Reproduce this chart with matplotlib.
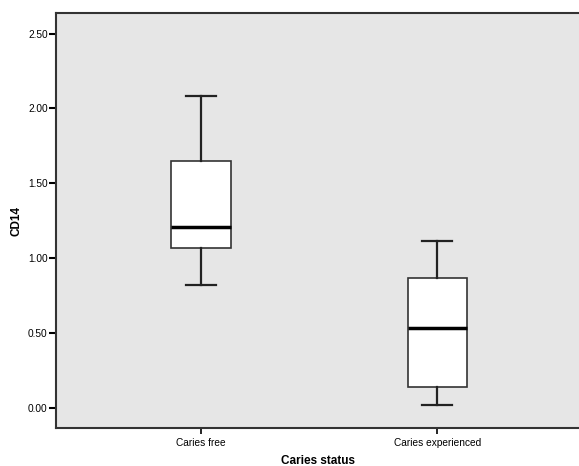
import matplotlib
matplotlib.use('Agg')
import matplotlib.pyplot as plt

plt.rcParams['font.family'] = ['Liberation Sans', 'DejaVu Sans']

groups = ['Caries free', 'Caries experienced']
whisker_low = [0.82, 0.018]
q1 = [1.069, 0.138]
median = [1.209, 0.535]
q3 = [1.651, 0.865]
whisker_high = [2.082, 1.113]
yticks = [0.0, 0.5, 1.0, 1.5, 2.0, 2.5]

stats = []
for i, g in enumerate(groups):
    stats.append({'label': g, 'whislo': whisker_low[i], 'q1': q1[i], 'med': median[i],
                  'q3': q3[i], 'whishi': whisker_high[i], 'fliers': []})

fig = plt.figure(figsize=(5.79, 4.66), dpi=100)
ax = fig.add_axes([56 / 579, 38 / 466, 524 / 579, 415 / 466])
ax.set_facecolor('#e6e6e6')

ax.bxp(stats, positions=[1, 2], widths=0.25, patch_artist=True, showfliers=False,
       boxprops=dict(facecolor='white', edgecolor='#333333', linewidth=1.2),
       medianprops=dict(color='black', linewidth=2.5),
       whiskerprops=dict(color='#222222', linewidth=1.6),
       capprops=dict(color='#222222', linewidth=1.6),
       capwidths=0.127)

ax.set_xlim(0.386, 2.605)
ax.set_ylim(-0.133, 2.637)
ax.set_yticks(yticks)
ax.set_yticklabels(['%.2f' % v for v in yticks])
ax.tick_params(axis='y', direction='out', length=5, width=1.5, labelsize=7.3, pad=1)
ax.tick_params(axis='x', direction='out', length=4, width=1.2, labelsize=7.3, pad=3)

for s in ['left', 'bottom', 'top']:
    ax.spines[s].set_linewidth(1.5)
    ax.spines[s].set_color('#333333')
ax.spines['right'].set_visible(False)

ax.set_ylabel('CD14', fontsize=8.5, fontweight='bold', labelpad=4)
ax.set_xlabel('Caries status', fontsize=8.5, fontweight='bold', labelpad=5)

fig.savefig('out.png', dpi=100)
